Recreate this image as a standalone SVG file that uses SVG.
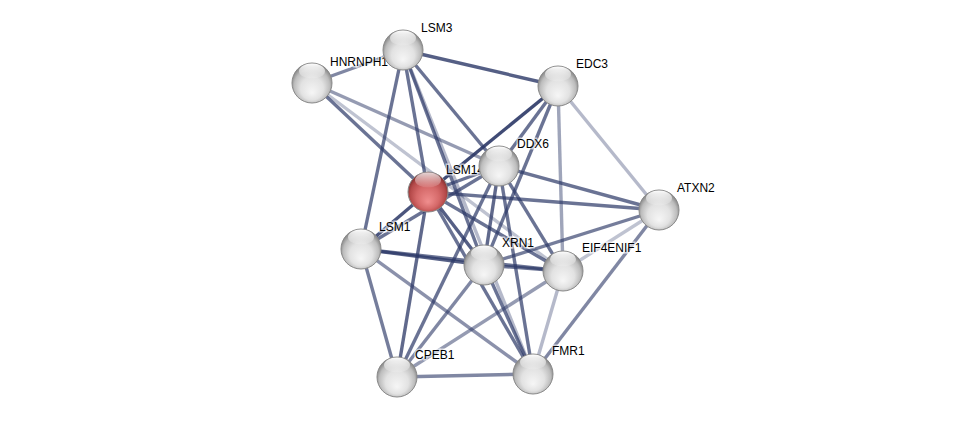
<svg xmlns="http://www.w3.org/2000/svg" width="976" height="422" viewBox="0 0 976 422">
<defs>
<radialGradient id="gw" cx="50%" cy="55%" r="52%" fx="50%" fy="75%">
<stop offset="0" stop-color="#f6f6f6"/>
<stop offset="0.55" stop-color="#e2e2e2"/>
<stop offset="0.85" stop-color="#bdbdbd"/>
<stop offset="1" stop-color="#8c8c8c"/>
</radialGradient>
<radialGradient id="gr" cx="50%" cy="55%" r="52%" fx="50%" fy="75%">
<stop offset="0" stop-color="#f08e8e"/>
<stop offset="0.55" stop-color="#d46868"/>
<stop offset="0.85" stop-color="#b54a4a"/>
<stop offset="1" stop-color="#8a3333"/>
</radialGradient>
<linearGradient id="hl" x1="0" y1="0" x2="0" y2="1">
<stop offset="0" stop-color="#ffffff" stop-opacity="1"/>
<stop offset="1" stop-color="#ffffff" stop-opacity="0.1"/>
</linearGradient>
</defs>
<style>
.e{stroke:#2b3766;stroke-width:3.4;fill:none}
.n{stroke:#8a8a8a;stroke-width:1}
.t{font-family:"Liberation Sans",Arial,sans-serif;font-size:12px;fill:#000;stroke:#fff;stroke-width:3;stroke-opacity:0.6;paint-order:stroke}
</style>
<rect width="976" height="422" fill="#fff"/>
<g id="edges">
<line class="e" x1="403" y1="50" x2="558" y2="86" stroke-opacity="0.8"/>
<line class="e" x1="403" y1="50" x2="312" y2="83" stroke-opacity="0.6"/>
<line class="e" x1="403" y1="50" x2="361" y2="249" stroke-opacity="0.7"/>
<line class="e" x1="403" y1="50" x2="428" y2="192" stroke-opacity="0.7"/>
<line class="e" x1="403" y1="50" x2="484" y2="265" stroke-opacity="0.7"/>
<line class="e" x1="403" y1="50" x2="499" y2="166" stroke-opacity="0.7"/>
<line class="e" x1="403" y1="50" x2="533" y2="374" stroke-opacity="0.35"/>
<line class="e" x1="312" y1="83" x2="428" y2="192" stroke-opacity="0.7"/>
<line class="e" x1="312" y1="83" x2="499" y2="166" stroke-opacity="0.5"/>
<line class="e" x1="312" y1="83" x2="563" y2="271" stroke-opacity="0.3"/>
<line class="e" x1="558" y1="86" x2="428" y2="192" stroke-opacity="0.9"/>
<line class="e" x1="558" y1="86" x2="499" y2="166" stroke-opacity="0.7"/>
<line class="e" x1="558" y1="86" x2="484" y2="265" stroke-opacity="0.7"/>
<line class="e" x1="558" y1="86" x2="563" y2="271" stroke-opacity="0.45"/>
<line class="e" x1="558" y1="86" x2="659" y2="210" stroke-opacity="0.35"/>
<line class="e" x1="499" y1="166" x2="428" y2="192" stroke-opacity="0.7"/>
<line class="e" x1="499" y1="166" x2="659" y2="210" stroke-opacity="0.7"/>
<line class="e" x1="499" y1="166" x2="484" y2="265" stroke-opacity="0.75"/>
<line class="e" x1="499" y1="166" x2="563" y2="271" stroke-opacity="0.7"/>
<line class="e" x1="499" y1="166" x2="533" y2="374" stroke-opacity="0.7"/>
<line class="e" x1="499" y1="166" x2="397" y2="377" stroke-opacity="0.7"/>
<line class="e" x1="499" y1="166" x2="361" y2="249" stroke-opacity="0.7"/>
<line class="e" x1="428" y1="192" x2="361" y2="249" stroke-opacity="0.85"/>
<line class="e" x1="428" y1="192" x2="484" y2="265" stroke-opacity="0.8"/>
<line class="e" x1="428" y1="192" x2="563" y2="271" stroke-opacity="0.7"/>
<line class="e" x1="428" y1="192" x2="533" y2="374" stroke-opacity="0.7"/>
<line class="e" x1="428" y1="192" x2="397" y2="377" stroke-opacity="0.75"/>
<line class="e" x1="428" y1="192" x2="659" y2="210" stroke-opacity="0.7"/>
<line class="e" x1="361" y1="249" x2="484" y2="265" stroke-opacity="0.8"/>
<line class="e" x1="361" y1="249" x2="563" y2="271" stroke-opacity="0.7"/>
<line class="e" x1="361" y1="249" x2="397" y2="377" stroke-opacity="0.65"/>
<line class="e" x1="361" y1="249" x2="533" y2="374" stroke-opacity="0.55"/>
<line class="e" x1="484" y1="265" x2="563" y2="271" stroke-opacity="0.7"/>
<line class="e" x1="484" y1="265" x2="659" y2="210" stroke-opacity="0.65"/>
<line class="e" x1="484" y1="265" x2="397" y2="377" stroke-opacity="0.6"/>
<line class="e" x1="484" y1="265" x2="533" y2="374" stroke-opacity="0.7"/>
<line class="e" x1="563" y1="271" x2="659" y2="210" stroke-opacity="0.3"/>
<line class="e" x1="563" y1="271" x2="397" y2="377" stroke-opacity="0.5"/>
<line class="e" x1="563" y1="271" x2="533" y2="374" stroke-opacity="0.35"/>
<line class="e" x1="659" y1="210" x2="533" y2="374" stroke-opacity="0.6"/>
<line class="e" x1="397" y1="377" x2="533" y2="374" stroke-opacity="0.6"/>
</g>
<g id="HNRNPH1"><circle class="n" cx="312" cy="83" r="20" fill="url(#gw)"/><ellipse cx="312" cy="71" rx="13" ry="7.5" fill="url(#hl)"/><text class="t" x="330" y="66">HNRNPH1</text></g>
<g id="LSM3"><circle class="n" cx="403" cy="50" r="20" fill="url(#gw)"/><ellipse cx="403" cy="38" rx="13" ry="7.5" fill="url(#hl)"/><text class="t" x="421" y="32">LSM3</text></g>
<g id="EDC3"><circle class="n" cx="558" cy="86" r="20" fill="url(#gw)"/><ellipse cx="558" cy="74" rx="13" ry="7.5" fill="url(#hl)"/><text class="t" x="576" y="68">EDC3</text></g>
<g id="LSM14"><circle class="n" cx="428" cy="192" r="20" fill="url(#gr)" stroke="#7a3030"/><ellipse cx="428" cy="180" rx="13" ry="7.5" fill="url(#hl)" opacity="0.8"/><text class="t" x="446" y="174">LSM14</text></g>
<g id="DDX6"><circle class="n" cx="499" cy="166" r="20" fill="url(#gw)"/><ellipse cx="499" cy="154" rx="13" ry="7.5" fill="url(#hl)"/><text class="t" x="517" y="148">DDX6</text></g>
<g id="ATXN2"><circle class="n" cx="659" cy="210" r="20" fill="url(#gw)"/><ellipse cx="659" cy="198" rx="13" ry="7.5" fill="url(#hl)"/><text class="t" x="677" y="192">ATXN2</text></g>
<g id="LSM1"><circle class="n" cx="361" cy="249" r="20" fill="url(#gw)"/><ellipse cx="361" cy="237" rx="13" ry="7.5" fill="url(#hl)"/><text class="t" x="379" y="231">LSM1</text></g>
<g id="XRN1"><circle class="n" cx="484" cy="265" r="20" fill="url(#gw)"/><ellipse cx="484" cy="253" rx="13" ry="7.5" fill="url(#hl)"/><text class="t" x="502" y="247">XRN1</text></g>
<g id="EIF4ENIF1"><circle class="n" cx="563" cy="271" r="20" fill="url(#gw)"/><ellipse cx="563" cy="259" rx="13" ry="7.5" fill="url(#hl)"/><text class="t" x="582" y="252">EIF4ENIF1</text></g>
<g id="CPEB1"><circle class="n" cx="397" cy="377" r="20" fill="url(#gw)"/><ellipse cx="397" cy="365" rx="13" ry="7.5" fill="url(#hl)"/><text class="t" x="415" y="359">CPEB1</text></g>
<g id="FMR1"><circle class="n" cx="533" cy="374" r="20" fill="url(#gw)"/><ellipse cx="533" cy="362" rx="13" ry="7.5" fill="url(#hl)"/><text class="t" x="552" y="355">FMR1</text></g>
</svg>
